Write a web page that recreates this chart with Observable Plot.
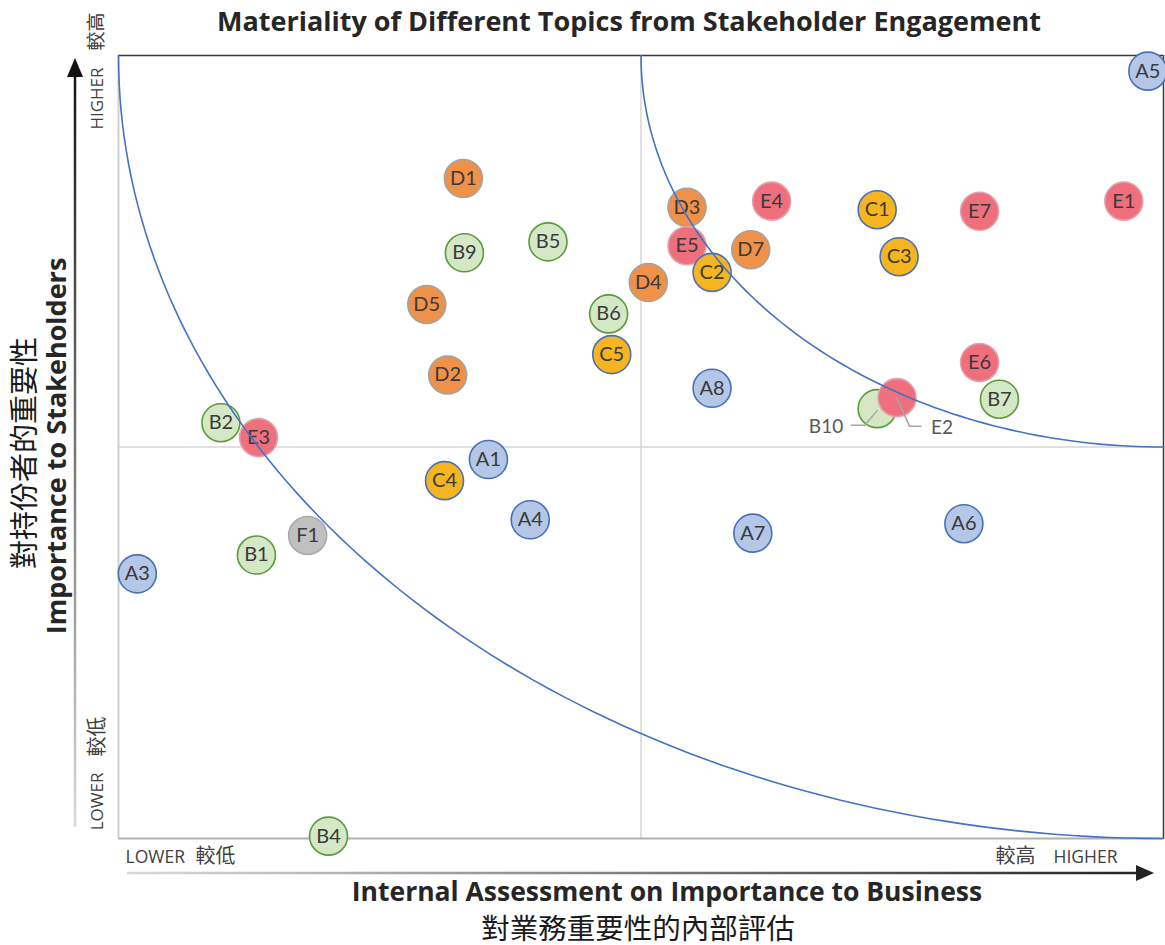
<!DOCTYPE html>
<html><head><meta charset="utf-8">
<script src="https://cdn.jsdelivr.net/npm/d3@7"></script>
<script src="https://cdn.jsdelivr.net/npm/@observablehq/plot@0.6"></script>
<style>body{margin:0;background:#fff} svg{display:block}</style>
</head><body><div id="chart"></div>
<script>
// ---- data ----
const topics       = ["A5","D1","D3","E4","C1","E7","E1","B9","B5","E5","D7","C2","C3","D4","D5","B6","C5","D2","E6","A8","B7","B10","E2","B2","E3","A1","C4","A4","A7","A6","F1","B1","A3","B4"];
const business     = [98.5, 33.0, 54.4, 62.5, 72.6, 82.4, 96.2, 33.1, 41.1, 54.4, 60.5, 56.8, 74.7, 50.7, 29.5, 46.9, 47.2, 31.5, 82.4, 56.8, 84.3, 72.6, 74.5,  9.8, 13.4, 35.4, 31.2, 39.4, 60.7, 80.9, 18.1, 13.2,  1.8, 20.1];
const stakeholders = [98.0, 84.3, 80.6, 81.4, 80.3, 80.1, 81.4, 74.8, 76.2, 75.7, 75.2, 72.3, 74.3, 71.0, 68.2, 67.0, 61.8, 59.2, 60.8, 57.5, 56.1, 54.9, 56.3, 53.1, 51.2, 48.4, 45.7, 40.7, 39.0, 40.2, 38.7, 36.2, 33.8,  0.3];
const calloutTopics = ["B10","E2"];

const groupNames = ["A","B","C","D","E","F"];
const groupFill   = ["#b4c7e7","#d5e8c6","#f5b520","#f0914a","#ef6f7d","#c0c0c0"];
const groupStroke = ["#4a70b8","#5b9a3e","#4a70b8","#a3a3a3","#e0a3ab","#a9a9a9"];

const titleText = "Materiality of Different Topics from Stakeholder Engagement";
const xTitleEn = "Internal Assessment on Importance to Business";
const xTitleZh = "對業務重要性的內部評估";
const yTitleEn = "Importance to Stakeholders";
const yTitleZh = "對持份者的重要性";
const lowLabelEn = "LOWER", highLabelEn = "HIGHER", lowLabelZh = "較低", highLabelZh = "較高";

// ---- table ----
const table = topics.map((t, i) => {
  const g = groupNames.indexOf(t[0]);
  return {topic: t, business: business[i], stakeholders: stakeholders[i], fill: groupFill[g], stroke: groupStroke[g]};
});
const innerTable = table.filter(d => !calloutTopics.includes(d.topic));
const callTable = table.filter(d => calloutTopics.includes(d.topic));

// threshold curves: quarter ellipses centred at the top-right corner of the frame
const arc = (radius) => d3.range(0, 91).map(a => {
  const t = a * Math.PI / 180;
  return {x: 100 - radius * Math.cos(t), y: 100 - radius * Math.sin(t)};
});
const outerArc = arc(100), innerArc = arc(50);

const FONT = "Lato, 'Open Sans', sans-serif";
const BOLD = "'Open Sans', Lato, sans-serif";
const CJK = "'Noto Sans CJK TC', 'Noto Sans CJK SC', sans-serif";

// decorations: axis arrows
function arrows(index, scales, values, dims) {
  const g = d3.create("svg:g");
  const defs = g.append("defs");
  const ml = dims.marginLeft, mt = dims.marginTop, H = dims.height, W = dims.width, mb = dims.marginBottom;
  const yb = H - mb;
  const ax = ml - 43;
  const gy = defs.append("linearGradient").attr("id","gy").attr("gradientUnits","userSpaceOnUse")
    .attr("x1",ax).attr("y1",yb-10).attr("x2",ax).attr("y2",mt+5);
  gy.append("stop").attr("offset","0").attr("stop-color","#d9d9d9");
  gy.append("stop").attr("offset","1").attr("stop-color","#111");
  const ay = yb + 35;
  const gx = defs.append("linearGradient").attr("id","gx").attr("gradientUnits","userSpaceOnUse")
    .attr("x1",ml+10).attr("y1",ay).attr("x2",W-15).attr("y2",ay);
  gx.append("stop").attr("offset","0").attr("stop-color","#d9d9d9");
  gx.append("stop").attr("offset","1").attr("stop-color","#222");
  g.append("line").attr("x1",ax).attr("x2",ax).attr("y1",yb-11).attr("y2",mt+20)
    .attr("stroke","url(#gy)").attr("stroke-width",2.5);
  g.append("path").attr("d",`M${ax},${mt+3}L${ax-8},${mt+22}L${ax+8},${mt+22}Z`).attr("fill","#111");
  g.append("line").attr("x1",ml+9).attr("x2",W-26).attr("y1",ay).attr("y2",ay)
    .attr("stroke","url(#gx)").attr("stroke-width",2.5);
  g.append("path").attr("d",`M${W-11},${ay}L${W-29},${ay-8}L${W-29},${ay+8}Z`).attr("fill","#222");
  return g.node();
}

// leader lines for the two overlapping topics
function leaders(index, scales) {
  const g = d3.create("svg:g").attr("fill","none").attr("stroke","#a6a6a6").attr("stroke-width",1.5);
  for (const d of callTable) {
    const px = scales.x(d.business), py = scales.y(d.stakeholders);
    if (d.topic === "B10") g.append("polyline").attr("points", `${px+1},${py+2} ${px-12},${py+17} ${px-26},${py+17}`);
    else g.append("polyline").attr("points", `${px},${py} ${px+13},${py+29} ${px+25},${py+29}`);
  }
  return g.node();
}

const mid = {textAnchor: "middle", lineAnchor: "middle"};

const chart = Plot.plot({
  width: 1165, height: 945,
  marginLeft: 118, marginRight: 2, marginTop: 55, marginBottom: 107,
  x: {domain: [0, 100], axis: null},
  y: {domain: [0, 100], axis: null},
  color: {type: "identity"},
  style: {fontFamily: FONT, background: "#fff", overflow: "visible"},
  marks: [
    Plot.ruleX([50], {stroke: "#d6d6d6", strokeWidth: 1.5}),
    Plot.ruleY([50], {stroke: "#d6d6d6", strokeWidth: 1.5}),
    Plot.ruleX([0], {stroke: "#cfcfcf", strokeWidth: 2}),
    Plot.ruleY([0], {stroke: "#b0b0b0", strokeWidth: 2}),
    Plot.ruleY([100], {stroke: "#3a3a3a", strokeWidth: 1.5}),
    Plot.ruleX([100], {stroke: "#3a3a3a", strokeWidth: 1.5}),
    arrows,
    Plot.dot(table, {x: "business", y: "stakeholders", r: 19, fill: "fill", stroke: "stroke", strokeWidth: 1.6}),
    Plot.text(innerTable, {x: "business", y: "stakeholders", text: "topic", fontSize: 20, fill: "#3a3a3a"}),
    leaders,
    Plot.text(callTable.filter(d => d.topic === "B10"), {x: "business", y: "stakeholders", text: "topic", fontSize: 19, fill: "#595959", textAnchor: "end", dx: -34, dy: 18}),
    Plot.text(callTable.filter(d => d.topic === "E2"), {x: "business", y: "stakeholders", text: "topic", fontSize: 19, fill: "#595959", textAnchor: "start", dx: 34, dy: 30}),
    Plot.line(outerArc, {x: "x", y: "y", stroke: "#4472c4", strokeWidth: 1.6}),
    Plot.line(innerArc, {x: "x", y: "y", stroke: "#4472c4", strokeWidth: 1.6}),
    // titles
    Plot.text([titleText], {...mid, frameAnchor: "top", dx: -12, dy: -33, fontSize: 27, fontFamily: BOLD, fontWeight: "bold", fill: "#262626"}),
    Plot.text([xTitleEn], {...mid, frameAnchor: "bottom", dx: 26, dy: 54, fontSize: 26.5, fontFamily: BOLD, fontWeight: "bold", fill: "#262626"}),
    Plot.text([xTitleZh], {...mid, frameAnchor: "bottom", dx: -3, dy: 91, fontSize: 28.5, fontFamily: CJK, fill: "#1a1a1a"}),
    Plot.text([yTitleEn], {...mid, frameAnchor: "left", dx: -61, dy: -1, rotate: -90, fontSize: 27, fontFamily: BOLD, fontWeight: "bold", fill: "#262626"}),
    Plot.text([yTitleZh], {...mid, frameAnchor: "left", dx: -93, dy: 6, rotate: -90, fontSize: 29, fontFamily: CJK, fill: "#1a1a1a"}),
    // low / high markers
    Plot.text([highLabelEn], {...mid, frameAnchor: "top-left", dx: -21, dy: 43, rotate: -90, fontSize: 17, fontFamily: BOLD, fill: "#404040"}),
    Plot.text([highLabelZh], {...mid, frameAnchor: "top-left", dx: -22, dy: -24, rotate: -90, fontSize: 19, fontFamily: CJK, fill: "#404040"}),
    Plot.text([lowLabelZh], {...mid, frameAnchor: "bottom-left", dx: -21, dy: -102, rotate: -90, fontSize: 20, fontFamily: CJK, fill: "#404040"}),
    Plot.text([lowLabelEn], {...mid, frameAnchor: "bottom-left", dx: -21, dy: -37, rotate: -90, fontSize: 17, fontFamily: BOLD, fill: "#404040"}),
    Plot.text([lowLabelEn], {frameAnchor: "bottom-left", textAnchor: "start", lineAnchor: "middle", dx: 7, dy: 19, fontSize: 17.5, fontFamily: BOLD, fill: "#404040"}),
    Plot.text([lowLabelZh], {frameAnchor: "bottom-left", textAnchor: "start", lineAnchor: "middle", dx: 77, dy: 18, fontSize: 20, fontFamily: CJK, fill: "#404040"}),
    Plot.text([highLabelZh], {frameAnchor: "bottom-right", textAnchor: "end", lineAnchor: "middle", dx: -128, dy: 18, fontSize: 20, fontFamily: CJK, fill: "#404040"}),
    Plot.text([highLabelEn], {frameAnchor: "bottom-right", textAnchor: "end", lineAnchor: "middle", dx: -46, dy: 19, fontSize: 17.5, fontFamily: BOLD, fill: "#404040"})
  ]
});
document.getElementById("chart").append(chart);
</script>
</body></html>
